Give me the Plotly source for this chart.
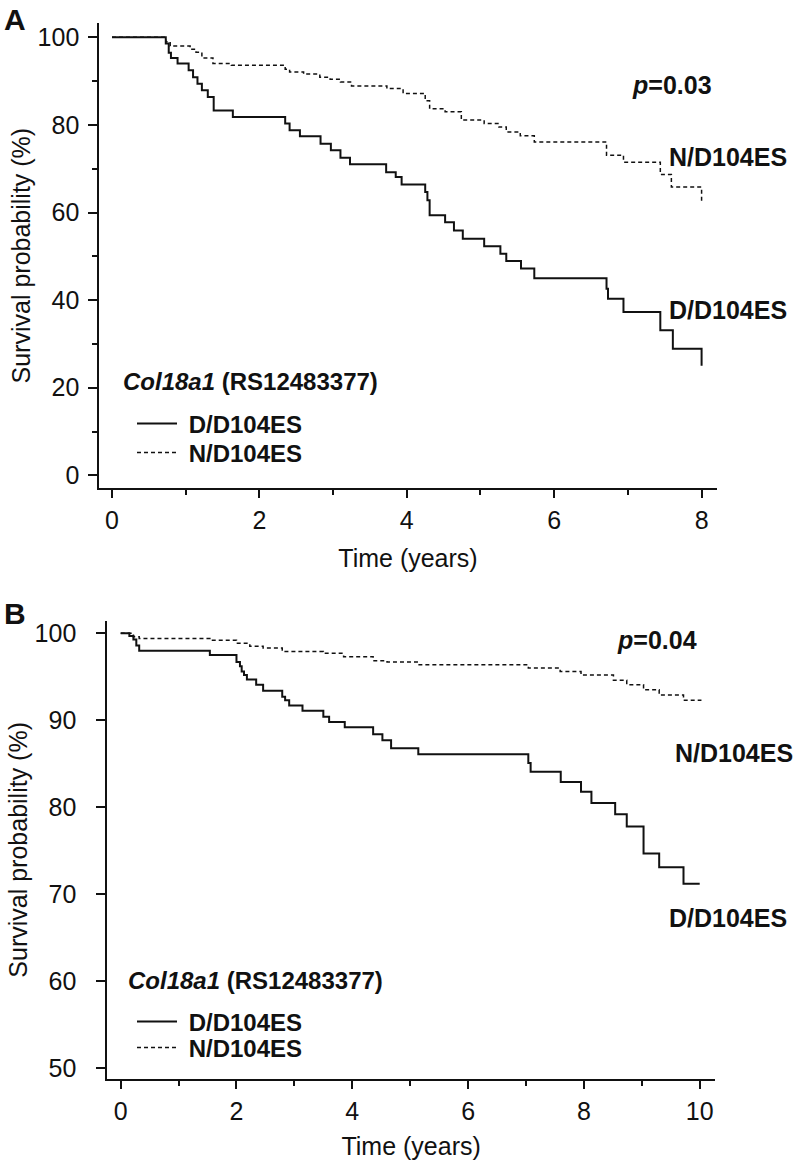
import plotly.graph_objects as go

# ---------------- data ----------------
# Panel A: Kaplan-Meier steps (time in years, survival %)
a_dd_time = [0, 0.73, 0.77, 0.80, 0.89, 1.04, 1.10, 1.16, 1.22, 1.30, 1.38, 1.64, 2.35, 2.41, 2.55,
             2.83, 2.97, 3.10, 3.23, 3.72, 3.85, 3.93, 4.25, 4.28, 4.31, 4.52, 4.64, 4.76, 5.05,
             5.27, 5.35, 5.55, 5.73, 6.71, 6.73, 6.94, 7.44, 7.61, 8.0]
a_dd_surv = [100, 98.6, 96.5, 95.3, 94.0, 92.5, 90.9, 89.4, 87.9, 86.4, 83.3, 81.8, 80.3, 78.8, 77.4,
             75.7, 74.2, 72.5, 71.0, 69.2, 68.1, 66.4, 64.7, 62.8, 59.4, 57.8, 55.9, 54.0, 52.3,
             50.6, 48.9, 47.2, 45.0, 42.6, 40.3, 37.3, 33.1, 28.9, 25.0]

a_nd_time = [0, 0.73, 0.79, 1.06, 1.14, 1.22, 1.37, 1.62, 2.35, 2.41, 2.60, 2.82, 2.96, 3.10, 3.25,
             3.73, 3.95, 4.25, 4.31, 4.52, 4.74, 5.05, 5.25, 5.35, 5.54, 5.73, 6.71, 6.94, 7.44,
             7.59, 8.0]
a_nd_surv = [100, 99.0, 98.0, 97.3, 96.6, 95.3, 94.0, 93.6, 92.7, 92.1, 91.6, 90.9, 90.4, 89.8, 88.9,
             88.3, 87.2, 85.5, 83.7, 83.0, 81.1, 80.3, 79.5, 78.4, 77.5, 76.1, 73.1, 71.5, 68.7,
             65.8, 62.0]

# Panel B
b_dd_time = [0, 0.15, 0.22, 0.27, 0.32, 1.54, 2.0, 2.06, 2.09, 2.13, 2.18, 2.34, 2.46, 2.79, 2.84,
             2.91, 3.14, 3.50, 3.60, 3.87, 4.36, 4.52, 4.67, 5.14, 7.04, 7.08, 7.60, 7.95, 8.13,
             8.54, 8.74, 9.03, 9.30, 9.72, 10.0]
b_dd_surv = [100, 99.7, 99.3, 98.6, 98.0, 97.5, 96.7, 96.2, 95.6, 95.2, 94.7, 94.1, 93.4, 92.7, 92.3,
             91.7, 91.1, 90.4, 89.8, 89.2, 88.4, 87.7, 86.8, 86.1, 85.1, 84.1, 82.9, 81.8, 80.5,
             79.2, 77.8, 74.7, 73.1, 71.2, 71.2]

b_nd_time = [0, 0.22, 0.32, 1.54, 2.0, 2.23, 2.46, 2.79, 3.50, 3.85, 4.36, 4.6, 5.14, 7.04, 7.59,
             7.95, 8.51, 8.74, 9.03, 9.30, 9.72, 10.03]
b_nd_surv = [100, 99.6, 99.4, 99.2, 98.85, 98.5, 98.3, 97.9, 97.7, 97.3, 96.85, 96.7, 96.4, 96.0, 95.6,
             95.2, 94.6, 94.1, 93.5, 92.9, 92.3, 92.3]

series_names = ["D/D104ES", "N/D104ES"]
gene_name = "Col18a1"
snp_name = "(RS12483377)"
p_values = ["0.03", "0.04"]
x_title = "Time (years)"
y_title = "Survival probability (%)"

# ---------------- figure ----------------
FONT = "Liberation Sans, Arial, Helvetica, sans-serif"
W, H = 799, 1163
INK = "#111111"

fig = go.Figure()

def add_pair(tt_dd, ss_dd, tt_nd, ss_nd, xa, ya, leg_dd, leg_nd):
    fig.add_trace(go.Scatter(x=tt_dd, y=ss_dd, mode="lines", line=dict(shape="hv", color=INK, width=2),
                             name="&nbsp;<b>%s</b>" % series_names[0], xaxis=xa, yaxis=ya,
                             legend=leg_dd, showlegend=True))
    fig.add_trace(go.Scatter(x=tt_nd, y=ss_nd, mode="lines",
                             line=dict(shape="hv", color=INK, width=1.5, dash="4px,3px"),
                             name="&nbsp;<b>%s</b>" % series_names[1], xaxis=xa, yaxis=ya,
                             legend=leg_nd, showlegend=True))

add_pair(a_dd_time, a_dd_surv, a_nd_time, a_nd_surv, "x", "y", "legend", "legend2")
add_pair(b_dd_time, b_dd_surv, b_nd_time, b_nd_surv, "x2", "y2", "legend3", "legend4")

tickfont = dict(family=FONT, size=25, color=INK)
titlefont = dict(family=FONT, size=25, color=INK)

def xaxis(domain, rng, anchor, title_standoff):
    return dict(domain=domain, range=rng, anchor=anchor, showline=True, linecolor=INK, linewidth=2,
                ticks="outside", ticklen=8, tickwidth=1.5, tickcolor=INK, dtick=2, tick0=0,
                minor=dict(ticks="outside", ticklen=5, tickwidth=1.5, tickcolor=INK, dtick=1),
                showgrid=False, zeroline=False, tickfont=tickfont, automargin=False,
                ticklabelstandoff=1,
                title=dict(text=x_title, font=titlefont, standoff=title_standoff))

def yaxis(domain, rng, anchor, dtick, minor_dtick, standoff):
    d = dict(domain=domain, range=rng, anchor=anchor, showline=True, linecolor=INK, linewidth=2,
             ticks="outside", ticklen=9, tickwidth=1.5, tickcolor=INK, dtick=dtick, tick0=0,
             showgrid=False, zeroline=False, tickfont=tickfont, automargin=False,
             ticklabelstandoff=standoff,
             title=dict(text=y_title, font=titlefont, standoff=0))
    if minor_dtick:
        d["minor"] = dict(ticks="outside", ticklen=5, tickwidth=1.5, tickcolor=INK, dtick=minor_dtick)
    return d

def leg(xpx, ypx):
    return dict(x=xpx / W, y=1 - ypx / H, xanchor="left", yanchor="middle",
                bgcolor="rgba(0,0,0,0)", font=dict(family=FONT, size=24, color=INK),
                itemwidth=40, borderwidth=0)

fig.update_layout(
    width=W, height=H, margin=dict(l=0, r=0, t=0, b=0),
    paper_bgcolor="white", plot_bgcolor="white",
    font=dict(family=FONT, color=INK),
    xaxis=xaxis([99.3 / W, 716.7 / W], [-0.172, 8.205], "y", 16),
    yaxis=yaxis([1 - 488 / H, 1 - 23.3 / H], [-2.9, 103.2], "x", 20, 10, 4),
    xaxis2=xaxis([107.3 / W, 715 / W], [-0.231, 10.264], "y2", 13),
    yaxis2=yaxis([1 - 1079 / H, 1 - 620.7 / H], [48.77, 101.45], "x2", 10, None, 15),
    legend=leg(132, 424),
    legend2=leg(132, 453),
    legend3=leg(132, 1022),
    legend4=leg(132, 1048),
    showlegend=True,
)

ann_font = dict(family=FONT, size=25, color=INK)
title_html = "<b><i>%s</i> %s</b>" % (gene_name, snp_name)
annotations = [
    dict(text="<b><i>p</i>=%s</b>" % p_values[0], x=7.03, y=89.1, xref="x", yref="y",
         xanchor="left", yanchor="middle", showarrow=False, font=ann_font),
    dict(text="<b>%s</b>" % series_names[1], x=7.53, y=72.7, xref="x", yref="y",
         xanchor="left", yanchor="middle", showarrow=False, font=ann_font),
    dict(text="<b>%s</b>" % series_names[0], x=7.53, y=37.8, xref="x", yref="y",
         xanchor="left", yanchor="middle", showarrow=False, font=ann_font),
    dict(text="<b><i>p</i>=%s</b>" % p_values[1], x=8.54, y=99.2, xref="x2", yref="y2",
         xanchor="left", yanchor="middle", showarrow=False, font=ann_font),
    dict(text="<b>%s</b>" % series_names[1], x=9.54, y=86.3, xref="x2", yref="y2",
         xanchor="left", yanchor="middle", showarrow=False, font=ann_font),
    dict(text="<b>%s</b>" % series_names[0], x=9.43, y=67.3, xref="x2", yref="y2",
         xanchor="left", yanchor="middle", showarrow=False, font=ann_font),
    dict(text=title_html, x=121 / W, y=1 - 381 / H, xref="paper", yref="paper",
         xanchor="left", yanchor="middle", showarrow=False, font=dict(family=FONT, size=24, color=INK)),
    dict(text=title_html, x=126 / W, y=1 - 980 / H, xref="paper", yref="paper",
         xanchor="left", yanchor="middle", showarrow=False, font=dict(family=FONT, size=24, color=INK)),
    dict(text="<b>A</b>", x=2 / W, y=1 - 19 / H, xref="paper", yref="paper",
         xanchor="left", yanchor="middle", showarrow=False, font=dict(family=FONT, size=30, color=INK)),
    dict(text="<b>B</b>", x=2 / W, y=1 - 613 / H, xref="paper", yref="paper",
         xanchor="left", yanchor="middle", showarrow=False, font=dict(family=FONT, size=30, color=INK)),
]
fig.update_layout(annotations=annotations)

fig.write_html("out.html", config={"displayModeBar": False},
               post_script="document.body.style.margin='0px';document.body.style.overflow='hidden';")
